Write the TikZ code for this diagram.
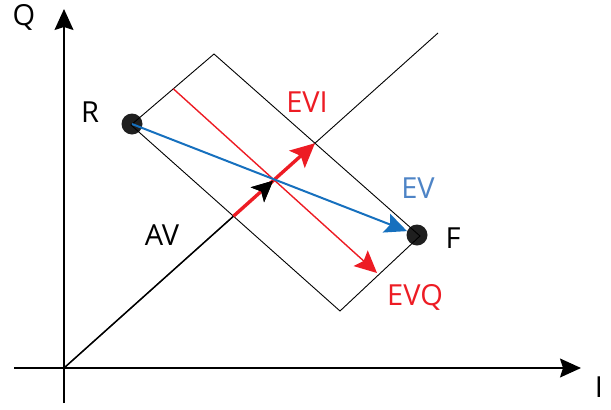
\documentclass[tikz,border=0pt]{standalone}
\usepackage{fontspec}
\setmainfont{Open Sans}
\usetikzlibrary{arrows.meta, calc}
\definecolor{evred}{RGB}{237, 28, 36}
\definecolor{evblue}{RGB}{22, 112, 190}
\definecolor{evlabel}{RGB}{78, 132, 198}

\begin{document}
\begin{tikzpicture}[
  x=1pt, y=-1pt,
  axis/.style={line width=1.3pt, -{Stealth[length=21pt, width=19pt, inset=3pt]}},
  guide/.style={line width=0.9pt},
  dot/.style={circle, fill=black!88, minimum size=21pt, inner sep=0pt},
  lbl/.style={font=\fontsize{29}{32}\selectfont, anchor=base, inner sep=0pt},
  evq/.style={evred, line width=1.4pt, -{Stealth[length=22pt, width=21pt, inset=4pt]}},
  evi/.style={evred, line width=3.4pt, -{Stealth[length=24pt, width=23pt, inset=5pt]}},
  ev/.style={evblue, line width=2pt, -{Stealth[length=22pt, width=20pt, inset=4pt]}},
  av/.style={black, line width=1.5pt, -{Stealth[length=21pt, width=20pt, inset=5pt]}}
]
  \useasboundingbox (0,0) rectangle (611,410);

  \coordinate (O) at (64,368);
  \coordinate (Qbot) at (64,403);
  \coordinate (Qtop) at (64,9);
  \coordinate (Ibeg) at (14,368);
  \coordinate (Iend) at (581,368);
  \coordinate (Dend) at (438,33);
  \coordinate (C) at ($(O)!0.559!(Dend)$);

  \coordinate (L) at (131,125);
  \coordinate (B) at (214,54);
  \coordinate (Rt) at (420,236);
  \coordinate (D) at (340,311);

  \coordinate (Vi0) at (intersection of O--Dend and L--D);
  \coordinate (Vi1) at (intersection of O--Dend and B--Rt);
  \coordinate (Vq0) at ($(L)!0.51!(B)$);
  \coordinate (Vq1) at (377,273);

  \draw[axis] (Qbot) -- (Qtop);
  \draw[axis] (Ibeg) -- (Iend);
  \draw[guide] (O) -- (Dend);

  \node[dot] (R) at (132,124) {};
  \node[dot] (F) at (417,235) {};
  \draw[guide] (L) -- (B) -- (Rt) -- (D) -- cycle;

  \draw[av] (O) -- (C);
  \draw[evq] (Vq0) -- (Vq1);
  \draw[evi] (Vi0) -- (Vi1);
  \draw[ev] (R.center) -- (F);
  \draw[av] ($(C)!15pt!(O)$) -- (C);

  \node[lbl] (Qlbl) at (24,25) {Q};
  \node[lbl] (Ilbl) at (599,397) {I};
  \node[lbl] (Rlbl) at (90,122) {R};
  \node[lbl] (Flbl) at (453,248) {F};
  \node[lbl] (AVlbl) at (162,245) {AV};
  \node[lbl, text=evred] (EVIlbl) at (307,112) {EVI};
  \node[lbl, text=evlabel] (EVlbl) at (418,198) {EV};
  \node[lbl, text=evred] (EVQlbl) at (415,305) {EVQ};
\end{tikzpicture}
\end{document}
